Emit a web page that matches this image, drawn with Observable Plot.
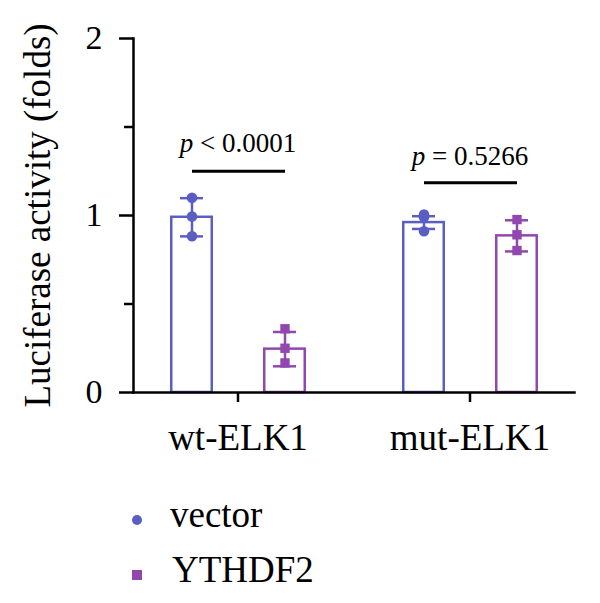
<!DOCTYPE html>
<html><head><meta charset="utf-8">
<script src="https://cdn.jsdelivr.net/npm/d3@7"></script>
<script src="https://cdn.jsdelivr.net/npm/@observablehq/plot@0.6"></script>
<style>
body{margin:0;background:#fff;font-family:"Liberation Serif",serif;}
#wrap{position:relative;width:600px;height:603px;overflow:hidden;}
#legend{position:absolute;left:0;top:470px;width:600px;height:133px;}
.item{position:absolute;font-size:37px;line-height:37px;color:#000;white-space:nowrap;}
.sym{position:absolute;}
</style></head><body>
<div id="wrap"><div id="chart"></div><div id="legend"></div></div>
<script>
// ---- data ----
const groups = ["wt-ELK1", "mut-ELK1"];
const series = ["vector", "YTHDF2"];
const colors = ["#5a5ec2", "#9247ae"];
const symbols = ["circle", "square"];
// bar means and SD, order: wt-vector, wt-YTHDF2, mut-vector, mut-YTHDF2
const means = [0.99, 0.245, 0.96, 0.885];
const sds = [0.108, 0.097, 0.036, 0.088];
const replicates = [
  [1.10, 0.994, 0.883],
  [0.36, 0.25, 0.167],
  [1.006, 0.99, 0.911],
  [0.977, 0.891, 0.802]
];
const pLabels = ["p < 0.0001", "p = 0.5266"];
const pLineY = [1.25, 1.185];
const pTextY = [1.356, 1.288];
const yTicks = [0, 1, 2];
const yMinorTicks = [0.5, 1.5];
const yLabel = "Luciferase activity (folds)";

// ---- tables ----
const bars = [];
groups.forEach((g, gi) => series.forEach((s, si) => {
  const k = gi * series.length + si;
  bars.push({group: g, series: s, mean: means[k], sd: sds[k]});
}));
const points = bars.flatMap((b, k) => replicates[k].map(v => ({group: b.group, series: b.series, value: v})));
const sig = groups.map((g, i) => ({group: g, label: pLabels[i], line: pLineY[i], text: pTextY[i]}));

const SW = 2.5;
const chart = Plot.plot({
  width: 600, height: 470,
  marginLeft: 133, marginRight: 18, marginTop: 38, marginBottom: 78,
  style: {fontFamily: "Liberation Serif", background: "white", color: "black"},
  fx: {domain: groups, paddingInner: 0.1, paddingOuter: 0.0175, align: 0, label: null},
  x: {domain: series, paddingInner: 0.538, paddingOuter: 0.389, axis: null},
  y: {domain: [0, 2], axis: null},
  color: {domain: series, range: colors},
  symbol: {domain: series, range: symbols},
  marks: [
    Plot.barY(bars, {fx: "group", x: "series", y: "mean", fill: "white", stroke: "series", strokeWidth: SW, insetLeft: 1.25, insetRight: 1.25}),
    Plot.ruleX(bars, {fx: "group", x: "series", y1: d => d.mean - d.sd, y2: d => d.mean + d.sd, stroke: "series", strokeWidth: SW}),
    Plot.tickY(bars, {fx: "group", x: "series", y: d => d.mean + d.sd, stroke: "series", strokeWidth: SW, insetLeft: 10, insetRight: 10}),
    Plot.tickY(bars, {fx: "group", x: "series", y: d => d.mean - d.sd, stroke: "series", strokeWidth: SW, insetLeft: 10, insetRight: 10}),
    Plot.dot(points, {fx: "group", x: "series", y: "value", fill: "series", symbol: "series", r: 5.3, stroke: "none"}),
    Plot.link(sig, {fx: "group", x1: () => series[0], x2: () => series[1], y1: "line", y2: "line", stroke: "black", strokeWidth: 3}),
    Plot.text(sig, {fx: "group", y: "text", text: "label", fontSize: 27, lineAnchor: "bottom", fill: "black"}),
    Plot.axisY({ticks: yTicks, tickFormat: d3.format("d"), tickSize: 14, tickPadding: 17, fontSize: 34, label: null, strokeWidth: SW}),
    Plot.axisY({ticks: yMinorTicks, tickSize: 9, tickFormat: () => "", label: null, strokeWidth: SW}),
    Plot.axisY({ticks: [], tickSize: 0, label: yLabel, labelAnchor: "center", labelArrow: "none", labelOffset: 110, fontSize: 37}),
    Plot.axisFx({anchor: "bottom", tickSize: 10, tickPadding: 21, fontSize: 37, label: null, strokeWidth: SW}),
    Plot.frame({anchor: "left", facet: "super", strokeWidth: SW}),
    Plot.frame({anchor: "bottom", facet: "super", strokeWidth: SW})
  ]
});
// italic "p"
d3.select(chart).selectAll("text").each(function() {
  const t = this.textContent;
  if (/^p [<=]/.test(t)) {
    const sel = d3.select(this);
    sel.text("");
    sel.append("tspan").attr("font-style", "italic").text("p");
    sel.append("tspan").text(t.slice(1));
  }
});
document.getElementById("chart").appendChild(chart);

// legend
const legend = document.getElementById("legend");
const rowTops = [26, 81];
series.forEach((s, i) => {
  const svg = d3.create("svg").attr("class", "sym").attr("width", 14).attr("height", 14)
    .style("left", "130px").style("top", (rowTops[i] + 17) + "px");
  if (symbols[i] === "circle") svg.append("circle").attr("cx", 7).attr("cy", 7).attr("r", 5).attr("fill", colors[i]);
  else svg.append("rect").attr("x", 2).attr("y", 2).attr("width", 10).attr("height", 10).attr("fill", colors[i]);
  legend.appendChild(svg.node());
  const div = document.createElement("div");
  div.className = "item";
  div.style.left = (i === 0 ? 170 : 172) + "px";
  div.style.top = rowTops[i] + "px";
  div.textContent = s;
  legend.appendChild(div);
});
</script>
</body></html>
